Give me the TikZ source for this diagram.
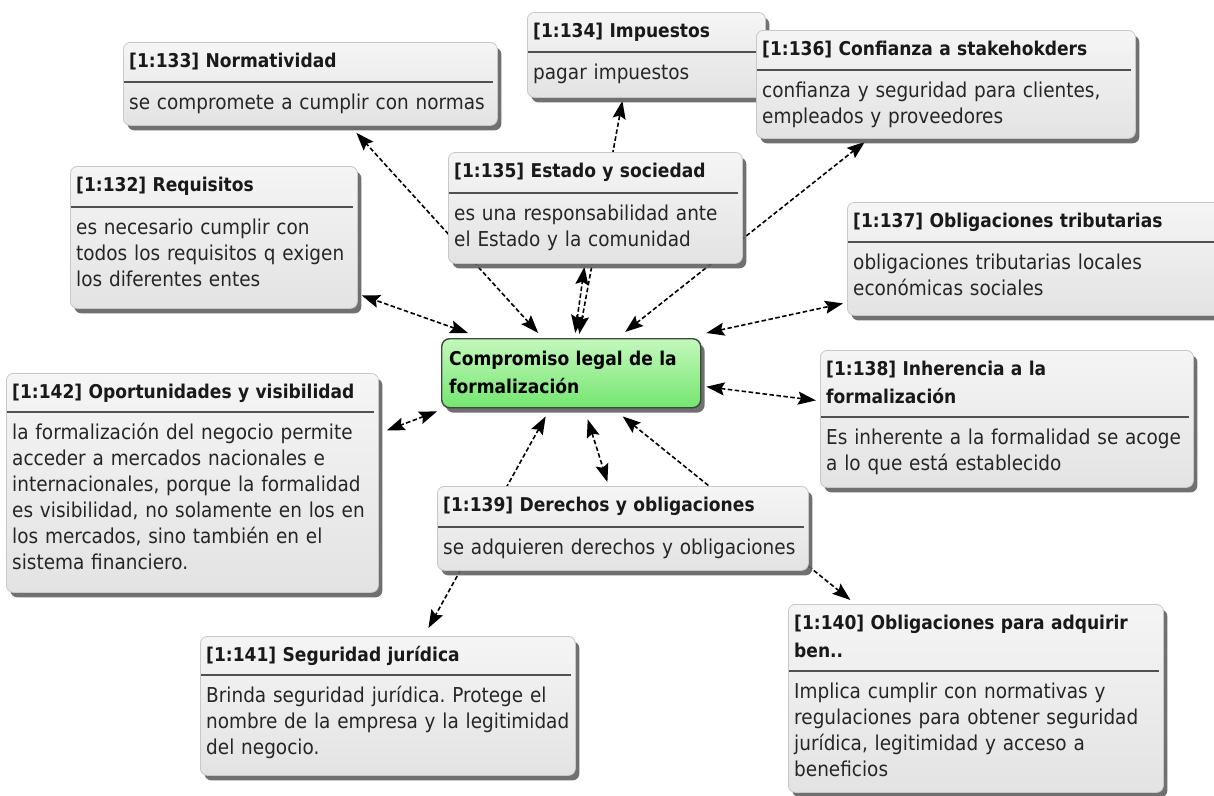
\documentclass[tikz,border=0pt]{standalone}
\usepackage{fontspec}
\setmainfont{DejaVu Sans}[FakeStretch=0.9]
\usetikzlibrary{arrows.meta,shadows,backgrounds}
\frenchspacing
\definecolor{boxtop}{HTML}{F5F5F5}
\definecolor{boxbot}{HTML}{E3E3E3}
\definecolor{boxline}{HTML}{C8C8C8}
\definecolor{sepcol}{HTML}{505050}
\definecolor{greentop}{HTML}{C4F8BC}
\definecolor{greenbot}{HTML}{74E670}
\definecolor{greenline}{HTML}{3C4A3C}
\tikzset{
  ibox/.style={draw=boxline, line width=0.8pt, rounded corners=7pt, top color=boxtop, bottom color=boxbot,
    inner sep=0pt, drop shadow={shadow xshift=4pt, shadow yshift=-5pt, fill=black!62, opacity=0.9}},
  centrebox/.style={draw=greenline, line width=1.4pt, rounded corners=8pt, top color=greentop, bottom color=greenbot,
    inner sep=0pt, drop shadow={shadow xshift=4pt, shadow yshift=-5pt, fill=black!62, opacity=0.9}},
  sepline/.style={draw=sepcol, line width=1.5pt},
  ttl/.style={inner sep=0pt, text width=420pt, align=left, font=\fontsize{19}{28}\selectfont\bfseries, text=black!90},
  bdy/.style={inner sep=0pt, text width=420pt, align=left, font=\fontsize{20.5}{26}\selectfont, text=black!85},
  conn/.style={line width=1.6pt, dash pattern=on 4.5pt off 2.5pt, {Stealth[length=18pt,width=13pt,inset=3pt]}-{Stealth[length=18pt,width=13pt,inset=3pt]}}
}
\newcommand\ibox[8]{%
  \node[ibox, anchor=north west, minimum width={(#4-#2)*1pt}, minimum height={(#5-#3)*1pt}] (#1) at (#2,#3) {};
  \draw[sepline] ({#2+1},#6) -- ({#4-4},#6);
  \node[ttl, anchor=base west] (#1-t) at ({#2+6},{#3+25}) {#7};
  \node[bdy, anchor=base west] (#1-b) at ({#2+6},{#6+27}) {#8};
}
\begin{document}
\begin{tikzpicture}[x=1pt,y=-1pt]
\useasboundingbox (0,0) rectangle (1214,795);

\ibox{n133}{123}{42}{497}{125}{82}{[1:133] Normatividad}{se compromete a cumplir con normas}
\ibox{n134}{527}{12}{765}{97}{52}{[1:134] Impuestos}{pagar impuestos}
\ibox{n136}{756}{30}{1135}{138}{70}{[1:136] Confianza a stakehokders}{confianza y seguridad para clientes,\\empleados y proveedores}
\ibox{n132}{70}{166}{357}{308}{207}{[1:132] Requisitos}{es necesario cumplir con\\todos los requisitos q exigen\\los diferentes entes}
\ibox{n135}{448}{152}{742}{263}{193}{[1:135] Estado y sociedad}{es una responsabilidad ante\\el Estado y la comunidad}
\ibox{n137}{847}{202}{1222}{315}{242}{[1:137] Obligaciones tributarias}{obligaciones tributarias locales\\económicas sociales}
\ibox{n138}{820}{350}{1193}{487}{417}{[1:138] Inherencia a la\\formalización}{Es inherente a la formalidad se acoge\\a lo que está establecido}
\ibox{n142}{6}{373}{378}{592}{412}{[1:142] Oportunidades y visibilidad}{la formalización del negocio permite\\acceder a mercados nacionales e\\internacionales, porque la formalidad\\es visibilidad, no solamente en los en\\los mercados, sino también en el\\sistema financiero.}
\ibox{n139}{437}{486}{808}{570}{527}{[1:139] Derechos y obligaciones}{se adquieren derechos y obligaciones}
\ibox{n141}{200}{636}{575}{775}{675}{[1:141] Seguridad jurídica}{Brinda seguridad jurídica. Protege el\\nombre de la empresa y la legitimidad\\del negocio.}
\ibox{n140}{788}{604}{1163}{792}{671}{[1:140] Obligaciones para adquirir\\ben..}{Implica cumplir con normativas y\\regulaciones para obtener seguridad\\jurídica, legitimidad y acceso a\\beneficios}

\node[centrebox, anchor=north west, minimum width=259pt, minimum height=69pt] (c) at (441,338) {};
\node[ttl, anchor=base west, text=black] (c-t) at (449,365) {Compromiso legal de la\\formalización};

\begin{pgfonlayer}{background}
\fill[white] (0,0) rectangle (1214,795);
\draw[conn] ([shift={(-33,-5)}]c.north) -- ([shift={(46,7)}]n133.south);
\draw[conn] ([shift={(8,-4)}]c.north) -- ([shift={(-24,3)}]n134.south);
\draw[conn] ([shift={(4,-5)}]c.north) -- ([shift={(-11,3)}]n135.south);
\draw[conn] ([shift={(54,-6)}]c.north) -- ([shift={(-81,3)}]n136.south);
\draw[conn] ([shift={(27,-5)}]c.north west) -- ([shift={(4,58)}]n132.east);
\draw[conn] ([shift={(5,-5)}]c.north east) -- ([shift={(-4,44.5)}]n137.west);
\draw[conn] ([shift={(5,13.5)}]c.east) -- ([shift={(-4,-18.5)}]n138.west);
\draw[conn] ([shift={(-4,3)}]c.south west) -- ([shift={(8,-52.5)}]n142.east);
\draw[conn] ([shift={(-25.5,8)}]c.south) -- ([shift={(40.5,-8)}]n141.north);
\draw[conn] ([shift={(16.5,11)}]c.south) -- ([shift={(-15.5,-4)}]n139.north);
\draw[conn] ([shift={(51.5,8)}]c.south) -- ([shift={(-125.5,-4)}]n140.north);
\end{pgfonlayer}
\end{tikzpicture}
\end{document}
